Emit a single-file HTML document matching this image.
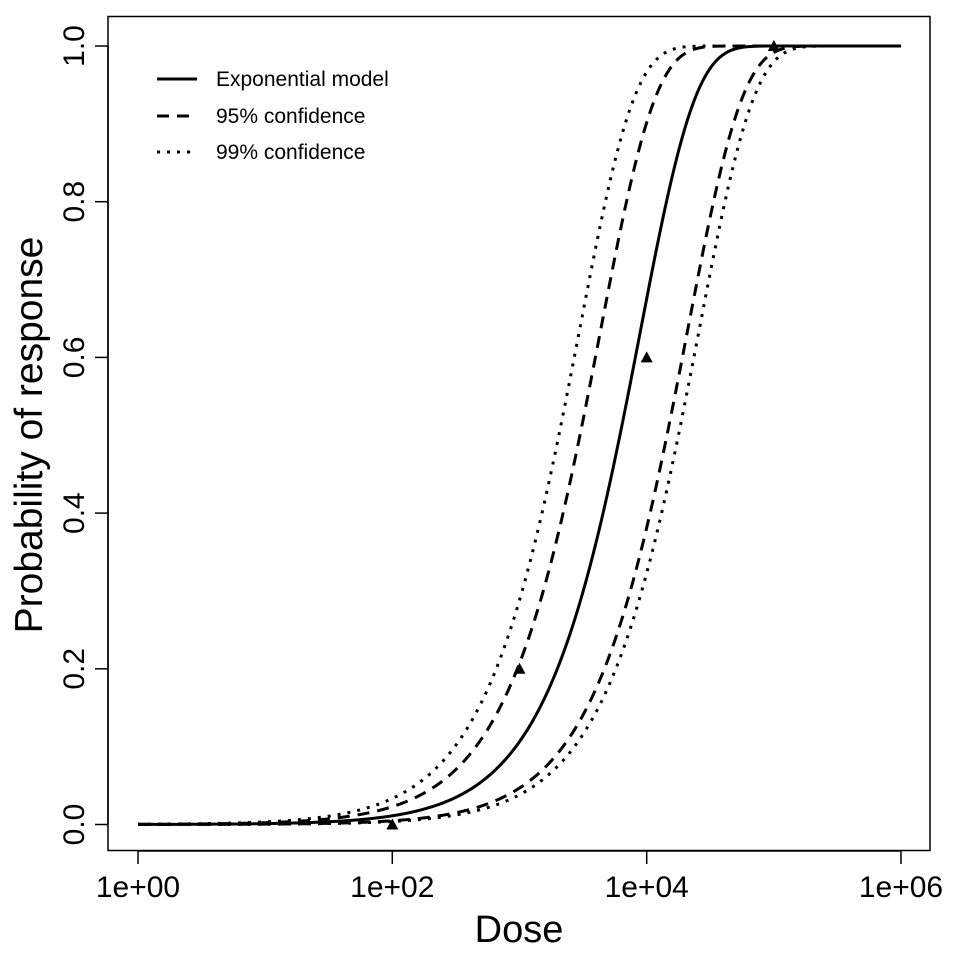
<!DOCTYPE html>
<html><head><style>body{margin:0;background:#fff}svg{display:block}text{font-family:"Liberation Sans",Arial,sans-serif;fill:#000}</style></head>
<body>
<svg id="s" width="960" height="960" viewBox="0 0 960 960" xmlns="http://www.w3.org/2000/svg">
<rect x="108" y="16.5" width="822" height="834" fill="none" stroke="#000" stroke-width="1.5"/>
<g stroke="#000" stroke-width="1.5">
<line x1="138" y1="851" x2="901" y2="851"/>
<line x1="138" y1="851" x2="138" y2="864"/><line x1="392.3" y1="851" x2="392.3" y2="864"/>
<line x1="646.7" y1="851" x2="646.7" y2="864"/><line x1="901" y1="851" x2="901" y2="864"/>
<line x1="108" y1="46" x2="108" y2="824.5"/>
<line x1="95" y1="824.5" x2="108" y2="824.5"/><line x1="95" y1="668.8" x2="108" y2="668.8"/>
<line x1="95" y1="513.1" x2="108" y2="513.1"/><line x1="95" y1="357.4" x2="108" y2="357.4"/>
<line x1="95" y1="201.7" x2="108" y2="201.7"/><line x1="95" y1="46" x2="108" y2="46"/>
</g>
<g font-size="30" text-anchor="middle">
<text x="138" y="897">1e+00</text><text x="392.3" y="897">1e+02</text>
<text x="646.7" y="897">1e+04</text><text x="901" y="897">1e+06</text>
<text transform="translate(84,824.5) rotate(-90)">0.0</text>
<text transform="translate(84,668.8) rotate(-90)">0.2</text>
<text transform="translate(84,513.1) rotate(-90)">0.4</text>
<text transform="translate(84,357.4) rotate(-90)">0.6</text>
<text transform="translate(84,201.7) rotate(-90)">0.8</text>
<text transform="translate(84,46) rotate(-90)">1.0</text>
</g>
<text x="519" y="942" font-size="38" text-anchor="middle">Dose</text>
<text transform="translate(42,435) rotate(-90)" font-size="39" text-anchor="middle">Probability of response</text>
<g stroke="#000" stroke-width="3" fill="none">
<line x1="157" y1="79" x2="197" y2="79"/>
<line x1="157" y1="116" x2="197" y2="116" stroke-dasharray="12,8"/>
<line x1="157" y1="152" x2="197" y2="152" stroke-dasharray="3,7"/>
</g>
<g font-size="21"><text x="216" y="86">Exponential model</text><text x="216" y="123">95% confidence</text><text x="216" y="159">99% confidence</text></g>
<g id="curves" fill="none" stroke="#000" stroke-width="3"></g>
<g id="pts"></g>
</svg>
<script>
var X=function(l){return 138+l*127.17},Y=function(p){return 824.5-p*778.5};
function path(k){var d="";for(var i=0;i<=600;i++){var l=i/100,p=1-Math.exp(-k*Math.pow(10,l));d+=(i?"L":"M")+X(l).toFixed(2)+","+Y(p).toFixed(2);}return d;}
var cs=[[1.125e-4,""],[2.32e-4,"12,8"],[4.8e-5,"12,8"],[3.4e-4,"3,7"],[3.9e-5,"3,7"]];
var g=document.getElementById("curves"),ns="http://www.w3.org/2000/svg";
cs.forEach(function(c){var p=document.createElementNS(ns,"path");p.setAttribute("d",path(c[0]));if(c[1])p.setAttribute("stroke-dasharray",c[1]);g.appendChild(p);});
var pts=[[2,0],[3,0.2],[4,0.6],[5,1]],pg=document.getElementById("pts");
pts.forEach(function(q){var x=X(q[0]),y=Y(q[1]);var t=document.createElementNS(ns,"polygon");t.setAttribute("points",(x-6)+","+(y+5)+" "+(x+6)+","+(y+5)+" "+x+","+(y-6));pg.appendChild(t);});
</script>
</body></html>
